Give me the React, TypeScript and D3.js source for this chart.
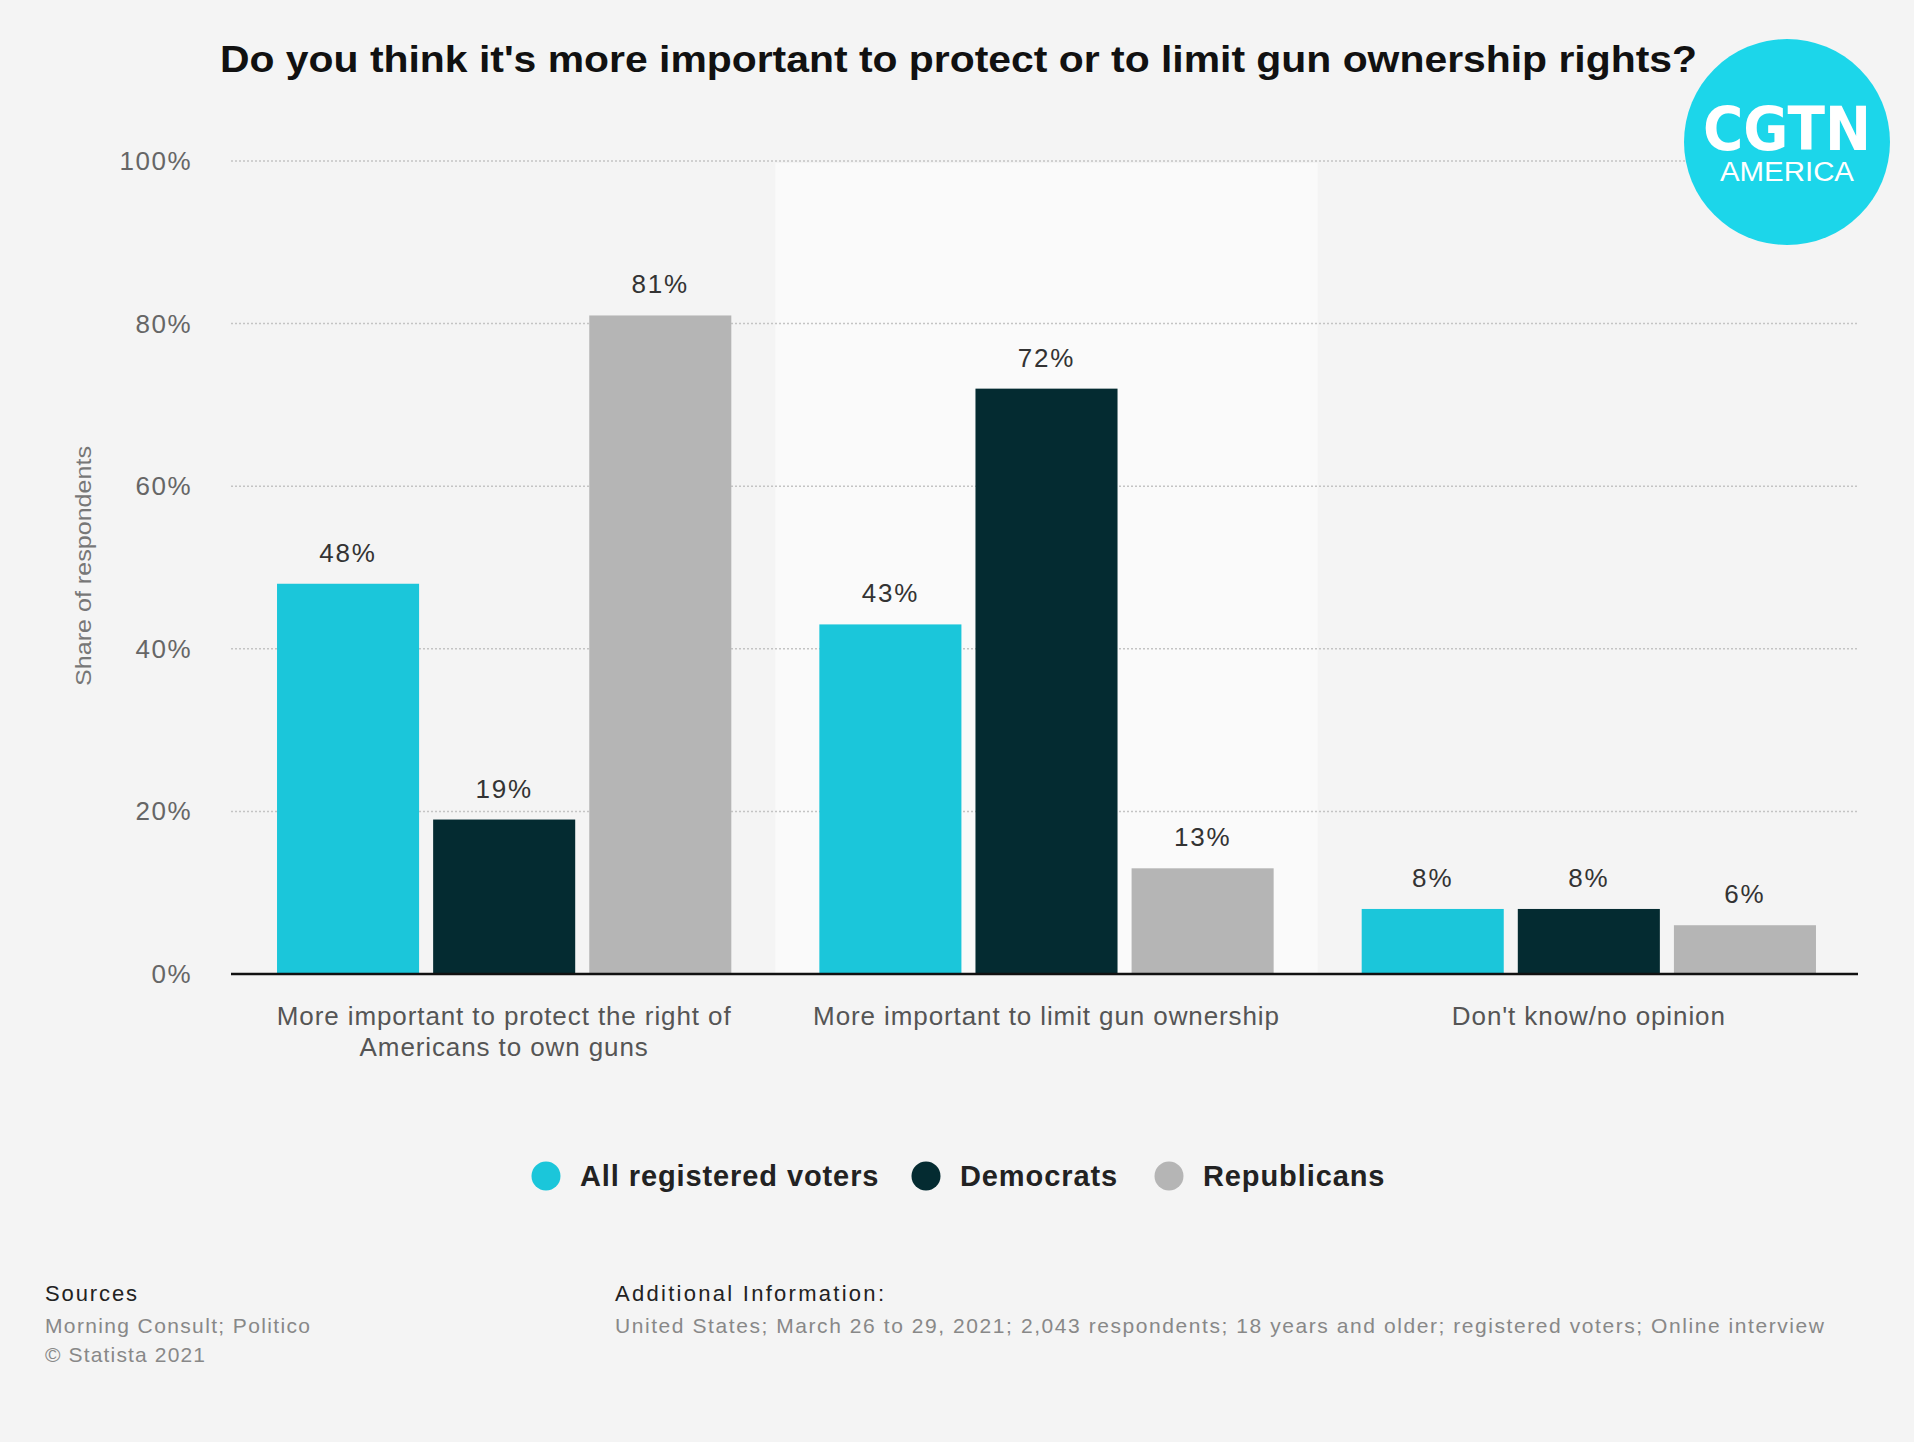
import React from "react";
import * as d3 from "d3";

const categories = [
  ["More important to protect the right of", "Americans to own guns"],
  ["More important to limit gun ownership"],
  ["Don't know/no opinion"],
];
const categoryKeys = ["protect", "limit", "dontknow"];
const seriesNames = ["All registered voters", "Democrats", "Republicans"];
const allVoters = [48, 43, 8];
const democrats = [19, 72, 8];
const republicans = [81, 13, 6];
const yTicks = [0, 20, 40, 60, 80, 100];
const seriesColors = ["#1bc6da", "#042b31", "#b5b5b5"];

const W = 1914;
const H = 1442;
const FONT = "'Liberation Sans', Arial, Helvetica, sans-serif";

export default function App() {
  const values = [allVoters, democrats, republicans];
  const y = d3.scaleLinear().domain([0, 100]).range([974, 161]);
  const x0 = d3.scaleBand().domain(categoryKeys).range([233, 1860]).paddingInner(0).paddingOuter(0);
  const x1 = d3
    .scaleBand()
    .domain(seriesNames)
    .range([0, x0.bandwidth()])
    .paddingInner(0.09)
    .paddingOuter(0.282);
  const plotLeft = 231;
  const plotRight = 1858;

  return (
    <svg
      width={W}
      height={H}
      style={{ position: "absolute", left: 0, top: 0 }}
      fontFamily={FONT}
    >
      <rect x={0} y={0} width={W} height={H} fill="#f4f4f4" />
      {/* highlighted band */}
      <rect
        x={x0("limit")}
        y={y(100) + 2}
        width={x0.bandwidth()}
        height={y(0) - y(100) - 2}
        fill="#fafafa"
      />
      {/* gridlines */}
      {yTicks.filter((t) => t > 0).map((t) => (
        <line
          key={t}
          x1={plotLeft}
          x2={plotRight}
          y1={y(t)}
          y2={y(t)}
          stroke="#c4c4c4"
          strokeWidth={1.5}
          strokeDasharray="2,2"
        />
      ))}
      {/* y tick labels */}
      {yTicks.map((t) => (
        <text
          key={t}
          x={192}
          y={y(t) + 9}
          textAnchor="end"
          fontSize={26}
          letterSpacing={1.5}
          fill="#666"
        >
          {t}%
        </text>
      ))}
      <text
        transform={`translate(91,566) rotate(-90)`}
        textAnchor="middle"
        fontSize={22}
        fill="#777"
        textLength={240}
        lengthAdjust="spacingAndGlyphs"
      >
        Share of respondents
      </text>
      {/* bars */}
      {categoryKeys.map((c, ci) => (
        <g key={c} transform={`translate(${x0(c)},0)`}>
          {seriesNames.map((s, si) => {
            const v = values[si][ci];
            const bx = x1(s)!;
            return (
              <g key={s}>
                <rect
                  x={bx}
                  y={y(v)}
                  width={x1.bandwidth()}
                  height={y(0) - y(v)}
                  fill={seriesColors[si]}
                />
                <text
                  x={bx + x1.bandwidth() / 2}
                  y={y(v) - 22}
                  textAnchor="middle"
                  fontSize={26}
                  letterSpacing={1.8}
                  fill="#333"
                >
                  {v}%
                </text>
              </g>
            );
          })}
        </g>
      ))}
      {/* axis line */}
      <line x1={plotLeft} x2={plotRight} y1={y(0)} y2={y(0)} stroke="#111" strokeWidth={2.5} />
      {/* category labels */}
      {categoryKeys.map((c, ci) => (
        <text
          key={c}
          x={x0(c)! + x0.bandwidth() / 2}
          y={1025}
          textAnchor="middle"
          fontSize={26}
          letterSpacing={0.9}
          fill="#555"
        >
          {categories[ci].map((line, li) => (
            <tspan key={li} x={x0(c)! + x0.bandwidth() / 2} dy={li === 0 ? 0 : 31}>
              {line}
            </tspan>
          ))}
        </text>
      ))}
      {/* title */}
      <text
        x={220}
        y={72}
        fontSize={36}
        fontWeight="bold"
        fill="#111"
        textLength={1477}
        lengthAdjust="spacingAndGlyphs"
      >
        Do you think it's more important to protect or to limit gun ownership rights?
      </text>
      {/* legend */}
      {(() => {
        const items = [
          { cx: 546, tx: 580 },
          { cx: 926, tx: 960 },
          { cx: 1169, tx: 1203 },
        ];
        return seriesNames.map((s, i) => (
          <g key={s}>
            <circle cx={items[i].cx} cy={1176} r={14.5} fill={seriesColors[i]} />
            <text
              x={items[i].tx}
              y={1186}
              fontSize={29}
              fontWeight="bold"
              letterSpacing={0.9}
              fill="#222"
            >
              {s}
            </text>
          </g>
        ));
      })()}
      {/* footer */}
      <text x={45} y={1301} fontSize={22} fill="#222" textLength={92} lengthAdjust="spacing">Sources</text>
      <text x={45} y={1333} fontSize={21} fill="#888" textLength={265} lengthAdjust="spacing">
        Morning Consult; Politico
      </text>
      <text x={45} y={1362} fontSize={21} fill="#888" textLength={160} lengthAdjust="spacing">
        © Statista 2021
      </text>
      <text x={615} y={1301} fontSize={22} fill="#222" textLength={269} lengthAdjust="spacing">
        Additional Information:
      </text>
      <text
        x={615}
        y={1333}
        fontSize={21}
        fill="#888"
        textLength={1209}
        lengthAdjust="spacing"
      >
        United States; March 26 to 29, 2021; 2,043 respondents; 18 years and older; registered voters; Online interview
      </text>
      {/* logo */}
      <circle cx={1787} cy={142} r={103} fill="#1cd6ea" />
      <text
        x={1787}
        y={150}
        textAnchor="middle"
        fontSize={60}
        fontWeight="bold"
        fill="#fff"
        fontFamily="'DejaVu Sans', 'Open Sans', sans-serif"
        textLength={168}
        lengthAdjust="spacingAndGlyphs"
      >
        CGTN
      </text>
      <text
        x={1787}
        y={181}
        textAnchor="middle"
        fontSize={27}
        fill="#fff"
        fontFamily="'Liberation Sans', sans-serif"
        textLength={134}
        lengthAdjust="spacingAndGlyphs"
      >
        AMERICA
      </text>
    </svg>
  );
}
